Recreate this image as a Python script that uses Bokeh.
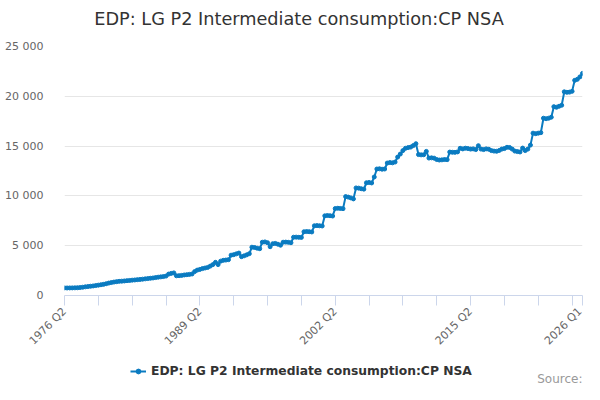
from bokeh.plotting import figure
from bokeh.layouts import column
from bokeh.models import Range1d, FixedTicker, Legend, LegendItem, Label, ColumnDataSource
from bokeh.embed import file_html
from bokeh.resources import INLINE
import math

# Quarterly categories 1976 Q2 .. 2026 Q1
quarters = []
for yr in range(1976, 2027):
    for q in range(1, 5):
        if (yr == 1976 and q < 2) or (yr == 2026 and q > 1):
            continue
        quarters.append(f"{yr} Q{q}")

values = [
    760, 755, 760, 765,
    770, 780, 800, 830,
    870, 900, 930, 960,
    1000, 1040, 1080, 1120,
    1180, 1250, 1300, 1350,
    1390, 1420, 1440, 1460,
    1490, 1510, 1540, 1560,
    1590, 1610, 1640, 1670,
    1700, 1730, 1760, 1800,
    1840, 1870, 1900, 1950,
    2150, 2220, 2270, 1980,
    1990, 2020, 2060, 2090,
    2120, 2160, 2400, 2550,
    2620, 2700, 2760, 2820,
    2950, 3100, 3330, 3100,
    3450, 3530, 3560, 3600,
    4050, 4100, 4180, 4260,
    3900, 3980, 4080, 4200,
    4850, 4820, 4750, 4700,
    5350, 5380, 5300, 4900,
    5200, 5230, 5150, 5050,
    5350, 5360, 5340, 5300,
    5850, 5860, 5840, 5830,
    6400, 6420, 6410, 6380,
    7000, 7020, 7000, 6980,
    8000, 8030, 8010, 7980,
    8730, 8760, 8740, 8720,
    9930, 9880, 9800, 9700,
    10800, 10780, 10720, 10680,
    11320, 11350, 11300, 11900,
    12700, 12720, 12680, 12700,
    13300, 13350, 13320, 13400,
    13900, 14200, 14550, 14780,
    14850, 14900, 15050, 15240,
    14150, 14120, 14130, 14470,
    13800, 13820, 13790, 13650,
    13600, 13620, 13650, 13640,
    14400, 14380, 14370, 14420,
    14780, 14720, 14790, 14750,
    14700, 14720, 14650, 15040,
    14700, 14650, 14720, 14680,
    14550, 14500, 14480, 14560,
    14700, 14750, 14880, 14860,
    14700, 14500, 14450, 14410,
    14800, 14550, 14700, 15100,
    16300, 16250, 16300, 16350,
    17800, 17750, 17800, 17900,
    18960, 18900, 19000, 19100,
    20450, 20400, 20420, 20500,
    21600, 21700, 21950, 22300,
]

labelled_ticks = ["1976 Q2", "1989 Q2", "2002 Q2", "2015 Q2", "2026 Q1"]
y_ticks = [0, 5000, 10000, 15000, 20000, 25000]
series_name = "EDP: LG P2 Intermediate consumption:CP NSA"
title_text = "EDP: LG P2 Intermediate consumption:CP NSA"
source_text = "Source:"

FONT = "DejaVu Sans"
COLOR = "#0a7bc1"
W = 584


def bare(fig):
    fig.axis.visible = False
    fig.grid.visible = False
    fig.outline_line_color = None
    fig.border_fill_color = "white"
    fig.background_fill_color = "white"


xs = list(range(len(quarters)))
src = ColumnDataSource(dict(x=xs, y=values, q=quarters))

# header with the title (frames of the column are aligned: frame x 64..582)
h = figure(width=W, height=30, output_backend="svg", toolbar_location=None,
           x_range=Range1d(0, 1), y_range=Range1d(0, 1),
           min_border_left=0, min_border_right=0, min_border_top=0, min_border_bottom=0)
bare(h)
h.add_layout(Label(x=234.5, y=12, x_units="screen", y_units="screen", text=title_text,
                   text_align="center", text_baseline="middle", text_font=FONT,
                   text_font_size="17.7px", text_color="#333333"))

p = figure(width=W, height=325, output_backend="svg", toolbar_location=None,
           x_range=Range1d(0, len(quarters) - 1), y_range=Range1d(0, 25000),
           min_border_left=64, min_border_right=2, min_border_top=16, min_border_bottom=58)
p.outline_line_color = None
p.background_fill_color = "white"
p.border_fill_color = "white"

r_line = p.line("x", "y", source=src, line_color=COLOR, line_width=2)
r_pts = p.scatter("x", "y", source=src, size=4, fill_color=COLOR, line_color=COLOR)

# x axis
tick_pos = list(range(0, len(quarters), 13)) + [len(quarters) - 1]
p.xaxis.ticker = FixedTicker(ticks=tick_pos)
overrides = {}
for t in tick_pos:
    overrides[t] = quarters[t] if quarters[t] in labelled_ticks else ""
p.xaxis.major_label_overrides = overrides
p.xaxis.major_label_orientation = math.pi / 4
p.xaxis.major_label_standoff = 4
p.xaxis.axis_line_color = "#ccd6eb"
p.xaxis.major_tick_line_color = "#ccd6eb"
p.xaxis.major_tick_out = 10
p.xaxis.major_tick_in = 0
p.xaxis.minor_tick_line_color = None
p.xaxis.major_label_text_font = FONT
p.xaxis.major_label_text_font_size = "11px"
p.xaxis.major_label_text_color = "#666666"
p.xgrid.grid_line_color = None

# y axis
p.yaxis.ticker = FixedTicker(ticks=y_ticks)
p.yaxis.major_label_overrides = {t: f"{t:,}".replace(",", " ") for t in y_ticks}
p.yaxis.major_label_standoff = 15
p.yaxis.axis_line_color = None
p.yaxis.major_tick_line_color = None
p.yaxis.minor_tick_line_color = None
p.yaxis.major_label_text_font = FONT
p.yaxis.major_label_text_font_size = "11px"
p.yaxis.major_label_text_color = "#666666"
p.ygrid.grid_line_color = "#e6e6e6"
p.ygrid.ticker = FixedTicker(ticks=y_ticks)

# footer figure: legend and source (series drawn off-range so only the legend key shows)
f = figure(width=W, height=29, output_backend="svg", toolbar_location=None,
           x_range=Range1d(0, len(quarters) - 1), y_range=Range1d(-100, -50),
           min_border_left=0, min_border_right=0, min_border_top=0, min_border_bottom=0)
bare(f)
lg_line = f.line("x", "y", source=src, line_color=COLOR, line_width=2)
lg_pts = f.scatter("x", "y", source=src, size=4, fill_color=COLOR, line_color=COLOR)

legend = Legend(items=[LegendItem(label=series_name, renderers=[lg_line, lg_pts])],
                orientation="horizontal", location=(66, 6),
                label_text_font=FONT, label_text_font_size="12.3px",
                label_text_font_style="bold", label_text_color="#333333",
                border_line_color=None, background_fill_alpha=0,
                glyph_width=16, glyph_height=12, label_standoff=5, padding=4, margin=0)
f.add_layout(legend, "center")

f.add_layout(Label(x=518, y=6, x_units="screen", y_units="screen", text=source_text,
                   text_align="right", text_baseline="middle", text_font=FONT,
                   text_font_size="12px", text_color="#999999"))

layout = column(h, p, f, spacing=0)
open("out.html", "w").write(file_html(layout, INLINE))
